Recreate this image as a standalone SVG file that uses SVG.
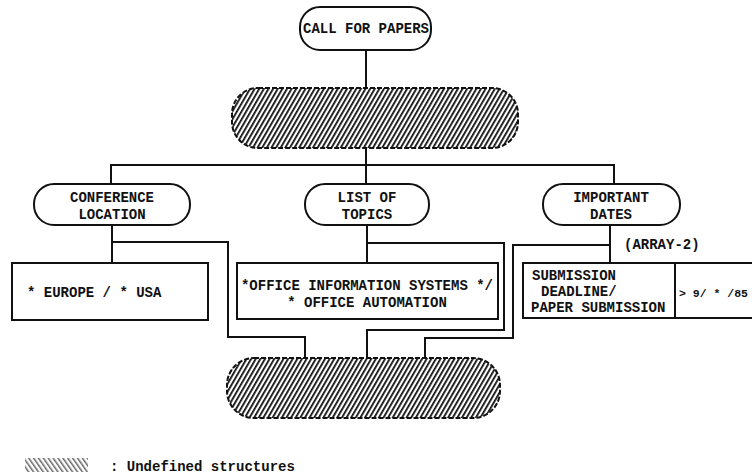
<svg xmlns="http://www.w3.org/2000/svg" width="752" height="476" viewBox="0 0 752 476">
<style>
.t{font-family:"Liberation Mono","DejaVu Sans Mono",monospace;font-weight:bold;font-size:14px;fill:#111}
.m{text-anchor:middle}
.box{fill:#fff;stroke:#111;stroke-width:2}
.hatch{fill:url(#hatch);stroke:#111;stroke-width:2;stroke-dasharray:5 2}
.c{fill:none;stroke:#111;stroke-width:2}
</style>
<defs>
<pattern id="hatch" width="4" height="4" patternUnits="userSpaceOnUse" patternTransform="rotate(30)">
<rect width="1.8" height="4" fill="#111"/>
</pattern>
<pattern id="hatch2" width="4" height="4" patternUnits="userSpaceOnUse" patternTransform="rotate(-35)">
<rect width="1.5" height="4" fill="#666"/>
</pattern>
</defs>
<rect width="752" height="476" fill="#fff"/>
<g id="connectors">
<path class="c" d="M366,50 V88"/>
<path class="c" d="M366,148 V184"/>
<path class="c" d="M111,184 V165 H614 V184"/>
<path class="c" d="M112,225 V263"/>
<path class="c" d="M112,242 H228 V337 H305 V358"/>
<path class="c" d="M367,225 V263"/>
<path class="c" d="M367,243 H504 V330 H367 V358"/>
<path class="c" d="M610,225 V263"/>
<path class="c" d="M610,245 H513 V338 H425 V358"/>
</g>
<g id="call-for-papers">
<rect class="box" x="300" y="7" width="131" height="43" rx="20"/>
<text class="t m" x="366" y="33">CALL FOR PAPERS</text>
</g>
<g id="undefined-top">
<rect class="hatch" x="232" y="88" width="286" height="60" rx="26"/>
</g>
<g id="conference-location">
<rect class="box" x="34" y="184" width="156" height="41" rx="20"/>
<text class="t m" x="112" y="202">CONFERENCE</text>
<text class="t m" x="112" y="219">LOCATION</text>
</g>
<g id="list-of-topics">
<rect class="box" x="305" y="184" width="124" height="41" rx="20"/>
<text class="t m" x="367" y="202">LIST OF</text>
<text class="t m" x="367" y="219">TOPICS</text>
</g>
<g id="important-dates">
<rect class="box" x="543" y="184" width="137" height="41" rx="20"/>
<text class="t m" x="611" y="202">IMPORTANT</text>
<text class="t m" x="611" y="219">DATES</text>
</g>
<text class="t" x="624" y="249">(ARRAY-2)</text>
<g id="europe-usa">
<rect class="box" x="12" y="263" width="196" height="57"/>
<text class="t" x="27" y="297">* EUROPE / * USA</text>
</g>
<g id="office-topics">
<rect class="box" x="237" y="263" width="261" height="56"/>
<text class="t m" x="367" y="290">*OFFICE INFORMATION SYSTEMS */</text>
<text class="t m" x="367" y="307">* OFFICE AUTOMATION</text>
</g>
<g id="submission-deadline">
<path d="M753,263 H523 V318 H753" fill="#fff" stroke="#111" stroke-width="2"/>
<line x1="675" y1="263" x2="675" y2="318" stroke="#111" stroke-width="2"/>
<text class="t" x="532" y="280">SUBMISSION</text>
<text class="t" x="541" y="296">DEADLINE/</text>
<text class="t" x="531" y="312">PAPER SUBMISSION</text>
<text class="t" x="679" y="297" style="font-size:11.5px">&gt; 9/ * /85</text>
</g>
<g id="undefined-bottom">
<rect class="hatch" x="227" y="358" width="273" height="60" rx="27"/>
</g>
<g id="legend">
<rect x="25" y="458" width="63" height="14" fill="url(#hatch2)"/>
<text class="t" x="110" y="471">: Undefined structures</text>
</g>
</svg>
